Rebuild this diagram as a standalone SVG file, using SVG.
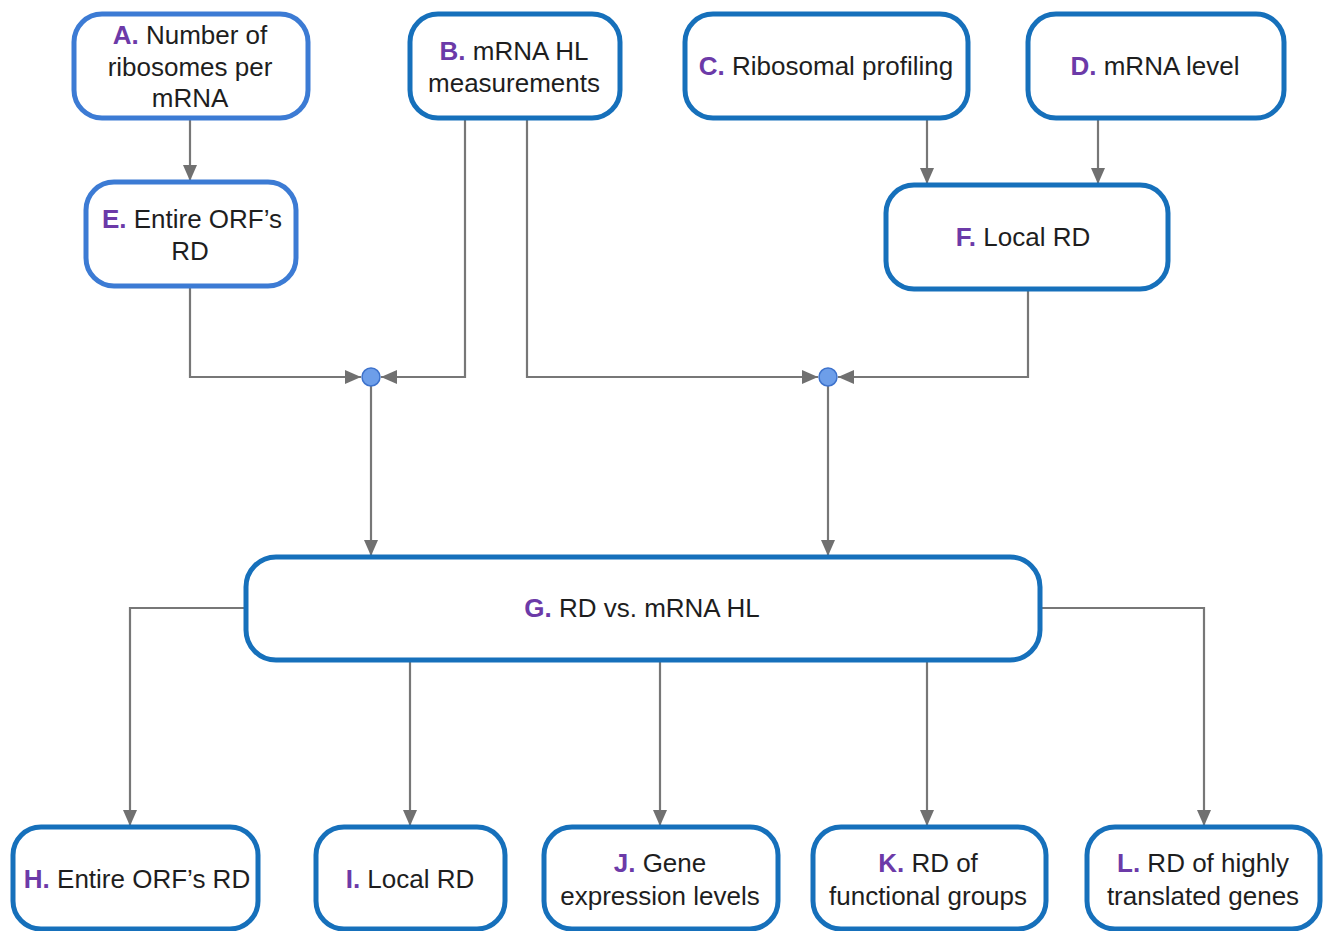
<svg xmlns="http://www.w3.org/2000/svg" width="1323" height="931" viewBox="0 0 1323 931">
<defs>
<style>
.box{fill:#fff;stroke:#1670bb;stroke-width:5}
.box2{fill:#fff;stroke:#3c7bd4;stroke-width:5}
.t{font-family:"Liberation Sans",Arial,sans-serif;font-size:26px;fill:#1e1e1e;text-anchor:middle}
.k{fill:#6c3aa8;font-weight:bold}
.c{fill:none;stroke:#777;stroke-width:2.2}
.dot{fill:#6d9ee9;stroke:#3d72cc;stroke-width:1.5}
</style>
<marker id="ah" markerWidth="16" markerHeight="14" refX="16" refY="7" orient="auto" markerUnits="userSpaceOnUse">
<path d="M0,0 L16,7 L0,14 Z" fill="#707070"/>
</marker>
</defs>
<rect width="1323" height="931" fill="#fff"/>
<g id="connectors">
<path class="c" d="M190,118 V181" marker-end="url(#ah)"/>
<path class="c" d="M190,286 V377 H361" marker-end="url(#ah)"/>
<path class="c" d="M465,118 V377 H381" marker-end="url(#ah)"/>
<path class="c" d="M527,118 V377 H818" marker-end="url(#ah)"/>
<path class="c" d="M1028,289 V377 H838" marker-end="url(#ah)"/>
<path class="c" d="M927,118 V184" marker-end="url(#ah)"/>
<path class="c" d="M1098,118 V184" marker-end="url(#ah)"/>
<path class="c" d="M371,386 V556" marker-end="url(#ah)"/>
<path class="c" d="M828,386 V556" marker-end="url(#ah)"/>
<path class="c" d="M245,608 H130 V826" marker-end="url(#ah)"/>
<path class="c" d="M410,660 V826" marker-end="url(#ah)"/>
<path class="c" d="M660,660 V826" marker-end="url(#ah)"/>
<path class="c" d="M927,660 V826" marker-end="url(#ah)"/>
<path class="c" d="M1040,608 H1204 V826" marker-end="url(#ah)"/>
<circle class="dot" cx="371" cy="377" r="9"/>
<circle class="dot" cx="828" cy="377" r="9"/>
</g>
<g id="A"><rect class="box2" x="74" y="14" width="234" height="104" rx="28"/>
<text class="t" x="190" y="44"><tspan class="k">A.</tspan> Number of</text>
<text class="t" x="190" y="76">ribosomes per</text>
<text class="t" x="190" y="107">mRNA</text></g>
<g id="B"><rect class="box" x="410" y="14" width="210" height="104" rx="28"/>
<text class="t" x="514" y="60"><tspan class="k">B.</tspan> mRNA HL</text>
<text class="t" x="514" y="92">measurements</text></g>
<g id="C"><rect class="box" x="685" y="14" width="283" height="104" rx="28"/>
<text class="t" x="826" y="75"><tspan class="k">C.</tspan> Ribosomal profiling</text></g>
<g id="D"><rect class="box" x="1028" y="14" width="256" height="104" rx="28"/>
<text class="t" x="1155" y="75"><tspan class="k">D.</tspan> mRNA level</text></g>
<g id="E"><rect class="box2" x="86" y="182" width="210" height="104" rx="28"/>
<text class="t" x="192" y="228"><tspan class="k">E.</tspan> Entire ORF’s</text>
<text class="t" x="190" y="260">RD</text></g>
<g id="F"><rect class="box" x="886" y="185" width="282" height="104" rx="28"/>
<text class="t" x="1023" y="246"><tspan class="k">F.</tspan> Local RD</text></g>
<g id="G"><rect class="box" x="246" y="557" width="794" height="103" rx="30"/>
<text class="t" x="642" y="617"><tspan class="k">G.</tspan> RD vs. mRNA HL</text></g>
<g id="H"><rect class="box" x="13" y="827" width="245" height="102" rx="28"/>
<text class="t" x="137" y="888"><tspan class="k">H.</tspan> Entire ORF’s RD</text></g>
<g id="I"><rect class="box" x="316" y="827" width="189" height="102" rx="28"/>
<text class="t" x="410" y="888"><tspan class="k">I.</tspan> Local RD</text></g>
<g id="J"><rect class="box" x="544" y="827" width="234" height="102" rx="28"/>
<text class="t" x="660" y="872"><tspan class="k">J.</tspan> Gene</text>
<text class="t" x="660" y="905">expression levels</text></g>
<g id="K"><rect class="box" x="813" y="827" width="233" height="102" rx="28"/>
<text class="t" x="928" y="872"><tspan class="k">K.</tspan> RD of</text>
<text class="t" x="928" y="905">functional groups</text></g>
<g id="L"><rect class="box" x="1087" y="827" width="233" height="102" rx="28"/>
<text class="t" x="1203" y="872"><tspan class="k">L.</tspan> RD of highly</text>
<text class="t" x="1203" y="905">translated genes</text></g>
</svg>
